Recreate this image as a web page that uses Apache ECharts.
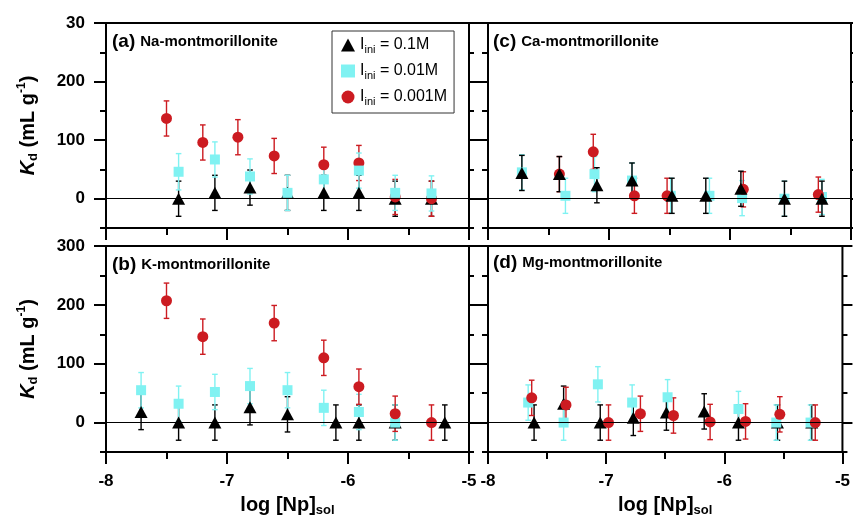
<!DOCTYPE html>
<html>
<head>
<meta charset="utf-8">
<script src="https://cdn.jsdelivr.net/npm/echarts@6/dist/echarts.min.js"></script>
<style>
html,body{margin:0;padding:0;background:#fff;}
#chart{width:853px;height:521px;}
</style>
</head>
<body>
<div id="chart"></div>
<script>
// ---------- data ----------
const legendNames = ['Iini = 0.1M', 'Iini = 0.01M', 'Iini = 0.001M'];
const panelTitles = ['(a)', '(b)', '(c)', '(d)'];
const panelNames = ['Na-montmorillonite', 'K-montmorillonite', 'Ca-montmorillonite', 'Mg-montmorillonite'];
const xTitle = 'log [Np]';
const xTitleSub = 'sol';
const yMajorTicks = [0, 100, 200, 300];
const yMinorTicks = [-50, 50, 150, 250];
const yTickLabelsTop = ['0', '100', '200', '30'];
const yTickLabelsBottom = ['0', '100', '200', '300'];

// (a) Na-montmorillonite
const aTriX = [-7.40, -7.10, -6.81, -6.50, -6.20, -5.91, -5.61, -5.31];
const aTriY = [0, 10, 19, 10, 10, 10, 0, 0];
const aTriE = [30, 30, 30, 30, 30, 30, 30, 30];
const aSqX = [-7.40, -7.10, -6.81, -6.50, -6.20, -5.91, -5.61, -5.31];
const aSqY = [46, 67, 38, 10, 33, 48, 10, 9];
const aSqE = [31, 30, 30, 30, 30, 30, 30, 30];
const aCirX = [-7.50, -7.20, -6.91, -6.61, -6.20, -5.91, -5.61, -5.31];
const aCirY = [137, 96, 105, 73, 58, 61, 3, 0];
const aCirE = [30, 30, 30, 30, 30, 30, 30, 30];

// (b) K-montmorillonite
const bTriX = [-7.71, -7.40, -7.10, -6.81, -6.50, -6.10, -5.91, -5.61, -5.20];
const bTriY = [18, 0, 0, 26, 14, 0, 0, 0, 0];
const bTriE = [30, 30, 30, 30, 30, 30, 30, 30, 30];
const bSqX = [-7.71, -7.40, -7.10, -6.81, -6.50, -6.20, -5.91, -5.61];
const bSqY = [55, 32, 52, 62, 55, 25, 18, 0];
const bSqE = [30, 30, 30, 30, 30, 30, 30, 30];
const bCirX = [-7.50, -7.20, -6.61, -6.20, -5.91, -5.61, -5.31];
const bCirY = [207, 146, 169, 110, 61, 15, 0];
const bCirE = [30, 30, 30, 30, 30, 30, 30];

// (c) Ca-montmorillonite
const cTriX = [-7.72, -7.41, -7.10, -6.81, -6.48, -6.20, -5.91, -5.55, -5.24];
const cTriY = [44, 42, 23, 31, 5, 5, 17, 0, 0];
const cTriE = [30, 30, 30, 30, 30, 30, 30, 30, 30];
const cSqX = [-7.72, -7.36, -7.12, -6.81, -6.49, -6.17, -5.90, -5.55, -5.24];
const cSqY = [45, 5, 42, 31, 5, 5, 1, 0, 3];
const cSqE = [30, 30, 30, 30, 30, 30, 30, 30, 30];
const cCirX = [-7.41, -7.13, -6.79, -6.52, -5.89, -5.27];
const cCirY = [42, 80, 5, 5, 16, 7];
const cCirE = [30, 30, 30, 30, 30, 30];

// (d) Mg-montmorillonite
const dTriX = [-7.61, -7.36, -7.05, -6.77, -6.49, -6.17, -5.88, -5.55, -5.26];
const dTriY = [0, 32, 0, 8, 17, 19, 0, 0, 0];
const dTriE = [30, 30, 30, 30, 30, 30, 30, 30, 30];
const dSqX = [-7.66, -7.36, -7.07, -6.78, -6.48, -5.88, -5.56, -5.27];
const dSqY = [34, 0, 65, 34, 43, 23, 0, 0];
const dSqE = [30, 30, 30, 30, 30, 30, 30, 30];
const dCirX = [-7.63, -7.34, -6.98, -6.71, -6.43, -6.12, -5.82, -5.53, -5.23];
const dCirY = [42, 30, 0, 15, 12, 1, 2, 14, 0];
const dCirE = [30, 30, 30, 30, 30, 30, 30, 30, 30];

// ---------- styling ----------
const FONT = "'Liberation Sans', Arial, Helvetica, sans-serif";
const BLACK = '#000000';
const CYAN = '#80f2f2';
const RED = '#cc1b21';

const gridsLayout = [
  {left: 106, top: 23, width: 363, height: 205},   // a
  {left: 106, top: 246, width: 363, height: 206},  // b
  {left: 488, top: 23, width: 363, height: 205},   // c
  {left: 488, top: 246, width: 363, height: 206}   // d
];
const isBottom = [false, true, false, true];
const isLeft = [true, true, false, false];

const grid = gridsLayout.map(g => Object.assign({
  show: true, borderColor: '#000', borderWidth: 2, backgroundColor: 'transparent', containLabel: false
}, g));

const tickLine = {color: '#000', width: 2};

const xAxis = gridsLayout.map((g, i) => ({
  gridIndex: i, type: 'value', min: -8, max: -5, interval: 1, position: 'bottom',
  axisLine: {show: false, onZero: false},
  splitLine: {show: false},
  axisTick: {show: true, length: 12, lineStyle: tickLine},
  minorTick: {show: true, splitNumber: 2, length: 7, lineStyle: tickLine},
  axisLabel: {show: isBottom[i], margin: 21, color: '#000', fontSize: 17, fontWeight: 'bold', fontFamily: FONT},
  name: isBottom[i] ? '{m|' + xTitle + '}{s|' + xTitleSub + '}' : '',
  nameLocation: 'middle', nameGap: 41,
  nameTextStyle: {
    rich: {
      m: {fontSize: 20, fontWeight: 'bold', fontFamily: FONT, color: '#000', lineHeight: 24},
      s: {fontSize: 13, fontWeight: 'bold', fontFamily: FONT, color: '#000', lineHeight: 8, verticalAlign: 'bottom'}
    }
  }
}));

const yAxis = [];
gridsLayout.forEach((g, i) => {
  const labels = (i === 0 || i === 2) ? yTickLabelsTop : yTickLabelsBottom;
  const base = {gridIndex: i, type: 'value', min: -50, max: 300,
    axisLine: {show: false, onZero: false}, splitLine: {show: false}};
  yAxis.push(Object.assign({}, base, {
    position: 'left',
    axisTick: {show: true, customValues: yMajorTicks, length: 12, lineStyle: tickLine},
    axisLabel: {show: isLeft[i], customValues: yMajorTicks, margin: 21, color: '#000', fontSize: 17,
      fontWeight: 'bold', fontFamily: FONT,
      formatter: v => labels[yMajorTicks.indexOf(v)]},
    name: isLeft[i] ? '{k|K}{d|d}{n| (mL g}{u|-1}{n|)}' : '',
    nameLocation: 'middle', nameRotate: 90, nameGap: 66,
    nameTextStyle: {
      rich: {
        k: {fontSize: 20, fontWeight: 'bold', fontStyle: 'italic', fontFamily: FONT, color: '#000', lineHeight: 24},
        d: {fontSize: 13, fontWeight: 'bold', fontFamily: FONT, color: '#000', lineHeight: 8, verticalAlign: 'bottom'},
        n: {fontSize: 20, fontWeight: 'bold', fontFamily: FONT, color: '#000', lineHeight: 24},
        u: {fontSize: 12, fontWeight: 'bold', fontFamily: FONT, color: '#000', lineHeight: 8, verticalAlign: 'top'}
      }
    }
  }));
  yAxis.push(Object.assign({}, base, {
    position: 'left',
    axisTick: {show: true, customValues: yMinorTicks, length: 6, lineStyle: tickLine},
    axisLabel: {show: false}
  }));
  yAxis.push(Object.assign({}, base, {
    position: 'right',
    axisTick: {show: true, customValues: yMajorTicks, length: 10, lineStyle: tickLine},
    axisLabel: {show: false}
  }));
  yAxis.push(Object.assign({}, base, {
    position: 'right',
    axisTick: {show: true, customValues: yMinorTicks, length: 5, lineStyle: tickLine},
    axisLabel: {show: false}
  }));
});

function errRender(color) {
  return function (params, api) {
    const x = api.value(0), lo = api.value(1), hi = api.value(2);
    const top = api.coord([x, hi]);
    const bot = api.coord([x, lo]);
    const c = 2.8;
    const style = {stroke: color, lineWidth: 1.4};
    return {
      type: 'group',
      children: [
        {type: 'line', shape: {x1: top[0], y1: top[1], x2: bot[0], y2: bot[1]}, style: style},
        {type: 'line', shape: {x1: top[0] - c, y1: top[1], x2: top[0] + c, y2: top[1]}, style: style},
        {type: 'line', shape: {x1: bot[0] - c, y1: bot[1], x2: bot[0] + c, y2: bot[1]}, style: style}
      ]
    };
  };
}

const kinds = {
  tri: {name: legendNames[0], symbol: 'triangle', size: [13, 12], color: BLACK},
  sq: {name: legendNames[1], symbol: 'rect', size: 10, color: CYAN},
  cir: {name: legendNames[2], symbol: 'circle', size: 11, color: RED}
};

const series = [];
function addGroup(g, kind, xs, ys, es, withZero) {
  const k = kinds[kind];
  series.push({
    type: 'custom', name: k.name + ' err', xAxisIndex: g, yAxisIndex: 4 * g,
    renderItem: errRender(k.color), silent: true, z: 3,
    encode: {x: 0, y: [1, 2]},
    data: xs.map((x, i) => [x, ys[i] - es[i], ys[i] + es[i]])
  });
  const s = {
    type: 'scatter', name: k.name, xAxisIndex: g, yAxisIndex: 4 * g,
    symbol: k.symbol, symbolSize: k.size, z: 3,
    itemStyle: {color: k.color, opacity: 1},
    emphasis: {disabled: true},
    data: xs.map((x, i) => [x, ys[i]])
  };
  if (withZero) {
    s.markLine = {silent: true, symbol: 'none', label: {show: false},
      lineStyle: {color: '#000', width: 1, type: 'solid'},
      emphasis: {disabled: true},
      data: [{yAxis: 0}]};
  }
  series.push(s);
}

// panel a: triangles, circles, squares on top
addGroup(0, 'tri', aTriX, aTriY, aTriE, true);
addGroup(0, 'cir', aCirX, aCirY, aCirE, false);
addGroup(0, 'sq', aSqX, aSqY, aSqE, false);
// panel b
addGroup(1, 'tri', bTriX, bTriY, bTriE, true);
addGroup(1, 'sq', bSqX, bSqY, bSqE, false);
addGroup(1, 'cir', bCirX, bCirY, bCirE, false);
// panel c
addGroup(2, 'sq', cSqX, cSqY, cSqE, true);
addGroup(2, 'cir', cCirX, cCirY, cCirE, false);
addGroup(2, 'tri', cTriX, cTriY, cTriE, false);
// panel d
addGroup(3, 'tri', dTriX, dTriY, dTriE, true);
addGroup(3, 'sq', dSqX, dSqY, dSqE, false);
addGroup(3, 'cir', dCirX, dCirY, dCirE, false);

const titlePos = [
  {left: 112, top: 31}, {left: 112, top: 254}, {left: 493, top: 31}, {left: 493, top: 252}
];
const title = titlePos.map((p, i) => ({
  left: p.left, top: p.top, padding: 0,
  text: '{a|' + panelTitles[i] + '} {b|' + panelNames[i] + '}',
  textStyle: {
    rich: {
      a: {fontSize: 19, fontWeight: 'bold', fontFamily: FONT, color: '#000', lineHeight: 22},
      b: {fontSize: 15, fontWeight: 'bold', fontFamily: FONT, color: '#000', lineHeight: 22}
    }
  }
}));

const chart = echarts.init(document.getElementById('chart'), null, {renderer: 'canvas'});
chart.setOption({
  animation: false,
  backgroundColor: '#fff',
  title: title,
  legend: {
    data: legendNames, orient: 'vertical', left: 332, top: 31,
    itemWidth: 14, itemHeight: 13, itemGap: 8,
    padding: [6, 7, 6, 9],
    borderColor: '#333', borderWidth: 1, borderRadius: 0,
    selectedMode: false,
    formatter: function (name) {
      return '{i|I}{s|ini}{t|' + name.replace('Iini', '') + '}';
    },
    textStyle: {
      rich: {
        i: {fontSize: 16, fontFamily: FONT, color: '#000', lineHeight: 20},
        s: {fontSize: 11, fontFamily: FONT, color: '#000', lineHeight: 8, verticalAlign: 'bottom'},
        t: {fontSize: 16, fontFamily: FONT, color: '#000', lineHeight: 20}
      }
    }
  },
  grid: grid,
  xAxis: xAxis,
  yAxis: yAxis,
  series: series
});
</script>
</body>
</html>
